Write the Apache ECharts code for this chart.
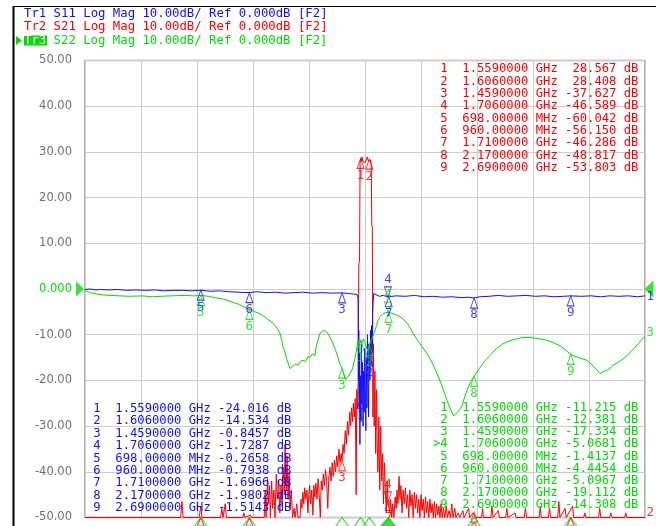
<!DOCTYPE html>
<html><head><meta charset="utf-8">
<script src="https://cdn.jsdelivr.net/npm/echarts@6.0.0/dist/echarts.min.js"></script>
<style>html,body{margin:0;padding:0;background:#fff}#c{width:656px;height:526px}</style>
</head><body><div id="c"></div>
<script>
// ---------- data ----------
const headerLines = [
  'Tr1 S11 Log Mag 10.00dB/ Ref 0.000dB [F2]',
  'Tr2 S21 Log Mag 10.00dB/ Ref 0.000dB [F2]',
  ' S22 Log Mag 10.00dB/ Ref 0.000dB [F2]'
];
const yTicks = [-50,-40,-30,-20,-10,0,10,20,30,40,50];
const freqStartMHz = 75, freqStopMHz = 3090;
const markerFreqMHz = [1559,1606,1459,1706,698,960,1710,2170,2690];
const markerFreqText = ['1.5590000 GHz','1.6060000 GHz','1.4590000 GHz','1.7060000 GHz','698.00000 MHz','960.00000 MHz','1.7100000 GHz','2.1700000 GHz','2.6900000 GHz'];
const s11Marker = ['-24.016','-14.534','-0.8457','-1.7287','-0.2658','-0.7938','-1.6966','-1.9802','-1.5143'];
const s21Marker = ['28.567','28.408','-37.627','-46.589','-60.042','-56.150','-46.286','-48.817','-53.803'];
const s22Marker = ['-11.215','-12.381','-17.334','-5.0681','-1.4137','-4.4454','-5.0967','-19.112','-14.308'];
const activeMarker = 4;

const s11 = [[75,-0.1],[100,0],[130,-0.2],[160,-0.1],[200,-0.2],[250,-0.1],[300,-0.3],[350,-0.2],[400,-0.3],[450,-0.2],[500,-0.4],[550,-0.3],[600,-0.3],[650,-0.4],[698,-0.27],[750,-0.5],[800,-0.4],[850,-0.6],[900,-0.7],[960,-0.79],[1000,-0.6],[1050,-0.8],[1100,-0.7],[1150,-0.9],[1200,-0.8],[1250,-0.7],[1300,-0.9],[1350,-0.8],[1400,-0.9],[1459,-0.85],[1500,-1.0],[1520,-1.1],[1540,-1.2],[1545,-2],[1547,-20],[1549,-9],[1551,-26],[1553,-14],[1555,-34],[1557,-19],[1559,-24.0],[1561,-29],[1563,-12],[1566,-25],[1569,-16],[1572,-30],[1575,-18],[1578,-27],[1581,-13],[1584,-22],[1587,-31],[1590,-15],[1593,-26],[1596,-10],[1599,-21],[1602,-28],[1604,-12],[1606,-14.5],[1609,-20],[1612,-9],[1615,-17],[1618,-8],[1621,-14],[1624,-5],[1627,-2.5],[1630,-1.0],[1636,-1.4],[1660,-1.6],[1680,-1.4],[1706,-1.73],[1710,-1.70],[1750,-1.5],[1800,-1.6],[1850,-1.4],[1900,-1.7],[1950,-1.6],[2000,-1.8],[2050,-1.7],[2100,-1.9],[2140,-1.8],[2170,-1.98],[2200,-1.7],[2250,-1.6],[2300,-1.4],[2350,-1.6],[2400,-1.5],[2450,-1.4],[2500,-1.6],[2550,-1.5],[2600,-1.7],[2650,-1.6],[2690,-1.51],[2750,-1.6],[2800,-1.5],[2850,-1.7],[2900,-1.5],[2950,-1.6],[3000,-1.5],[3050,-1.7],[3090,-1.5]];

const s21 = [[75,-50],[180,-50],[590,-50],[597,-46.5],[603,-50],[690,-50],[698,-47.5],[705,-50],[805,-50],[812,-48],[818,-50],[830,-47],[836,-50],[925,-50],[930,-49],[936,-50],[965,-49.5],[972,-50],[1040,-50],[1045,-44],[1050,-50],[1058,-41.5],[1062,-47],[1068,-43],[1073,-50],[1080,-42],[1085,-48],[1092,-44],[1098,-50],[1105,-40.5],[1110,-46],[1118,-42],[1124,-49],[1130,-43],[1136,-47],[1142,-39],[1148,-45],[1152,-34],[1158,-44],[1163,-36.5],[1168,-46],[1174,-40],[1180,-48],[1186,-44],[1192,-50],[1200,-48],[1206,-50],[1215,-47],[1222,-50],[1233,-50],[1238,-46],[1243,-48],[1248,-44.5],[1253,-47],[1258,-43.5],[1264,-46],[1270,-44],[1275,-49],[1280,-45],[1285,-43],[1290,-47],[1296,-44],[1302,-49.5],[1307,-43],[1312,-45.5],[1318,-42.5],[1324,-46],[1330,-41.5],[1336,-45],[1342,-50],[1347,-42],[1353,-44],[1358,-40.5],[1364,-43],[1370,-39.5],[1376,-42],[1382,-48],[1388,-41],[1394,-39],[1400,-42],[1406,-38],[1412,-41],[1418,-37.5],[1424,-40],[1430,-36.5],[1436,-39],[1442,-35],[1448,-38],[1454,-36],[1459,-37.6],[1464,-34],[1470,-36],[1476,-31],[1482,-34],[1488,-29],[1494,-32],[1500,-27],[1505,-30],[1510,-26],[1515,-29],[1520,-25],[1525,-28],[1530,-24],[1535,-45],[1538,-22],[1542,-26],[1546,-20],[1549,5.5],[1553,6],[1556,27.5],[1559,28.57],[1563,28.0],[1567,28.9],[1571,27.8],[1576,27.6],[1580,27.9],[1584,27.7],[1590,27.9],[1595,28.9],[1600,28.0],[1606,28.41],[1612,28.2],[1616,27.5],[1619,14],[1622,13.5],[1625,-28],[1628,-12],[1632,-30],[1636,-18],[1640,-36],[1644,-22],[1648,-33],[1652,-40],[1657,-28],[1662,-44],[1667,-30],[1672,-42],[1677,-36],[1682,-47],[1687,-38],[1692,-44],[1697,-49],[1702,-42],[1706,-46.6],[1710,-46.3],[1716,-49],[1720,-46],[1726,-50],[1732,-47],[1738,-50],[1745,-45.5],[1750,-48],[1755,-44],[1760,-47],[1766,-41],[1771,-46],[1776,-43],[1782,-49],[1788,-44],[1794,-47],[1800,-43.5],[1806,-48],[1812,-45],[1818,-50],[1824,-44],[1830,-47.5],[1836,-45],[1842,-50],[1848,-44.5],[1854,-48],[1860,-45],[1866,-49],[1872,-46],[1878,-50],[1884,-45],[1890,-48.5],[1896,-46],[1902,-50],[1908,-45.5],[1914,-49],[1920,-46.5],[1926,-50],[1932,-46],[1938,-49],[1944,-47],[1950,-50],[1956,-46.5],[1962,-50],[1968,-47],[1974,-49.5],[1980,-47.5],[1986,-50],[1992,-47],[1998,-50],[2005,-48],[2012,-50],[2020,-47.5],[2026,-50],[2035,-48.5],[2042,-50],[2050,-47],[2056,-50],[2066,-48],[2072,-50],[2085,-49],[2092,-50],[2110,-48.5],[2116,-50],[2140,-48],[2146,-50],[2165,-49],[2170,-48.8],[2176,-50],[2210,-50],[2215,-48],[2220,-50],[2260,-50],[2266,-47.5],[2272,-50],[2300,-48.5],[2306,-50],[2340,-50],[2346,-48],[2352,-50],[2390,-49],[2396,-50],[2440,-50],[2446,-48],[2452,-50],[2520,-50],[2526,-47.5],[2532,-50],[2570,-50],[2576,-48],[2582,-50],[2620,-50],[2626,-46.5],[2632,-50],[2660,-48],[2666,-50],[2700,-47.5],[2706,-50],[2760,-50],[2766,-49],[2772,-50],[2840,-50],[2846,-48],[2852,-50],[2900,-50],[2906,-49],[2912,-50],[2980,-50],[2986,-49],[2992,-50],[3090,-50]];

const s22 = [[75,-0.3],[100,-0.8],[129,-1.0],[170,-1.3],[210,-1.4],[260,-1.5],[317,-1.6],[380,-1.5],[440,-1.7],[479,-1.6],[540,-1.5],[613,-1.4],[660,-1.5],[698,-1.41],[740,-1.6],[775,-1.9],[820,-2.2],[856,-2.7],[900,-3.3],[930,-3.9],[960,-4.45],[990,-5.0],[1017,-5.4],[1050,-6.3],[1087,-7.5],[1110,-8.6],[1125,-9.7],[1135,-11.2],[1141,-12.8],[1150,-13.5],[1160,-15.2],[1170,-16.4],[1179,-17.4],[1190,-17.0],[1200,-17.2],[1210,-16.4],[1222,-16.7],[1235,-15.8],[1249,-15.6],[1262,-15.9],[1275,-14.8],[1286,-15.0],[1300,-14.2],[1313,-14.6],[1320,-12.5],[1329,-11.3],[1340,-9.7],[1355,-9.2],[1367,-9.1],[1383,-9.7],[1397,-10.8],[1410,-11.9],[1425,-13.5],[1437,-15.0],[1448,-16.5],[1459,-17.3],[1470,-19.0],[1478,-19.8],[1486,-20.0],[1495,-19.0],[1502,-19.4],[1515,-17.5],[1529,-15.0],[1538,-13.0],[1545,-11.3],[1552,-12.5],[1559,-11.2],[1566,-11.9],[1573,-10.9],[1583,-11.7],[1592,-13.0],[1599,-13.5],[1606,-12.4],[1613,-11.4],[1620,-10.8],[1628,-10.0],[1636,-9.7],[1645,-8.0],[1652,-6.9],[1665,-6.0],[1679,-5.4],[1692,-5.2],[1706,-5.07],[1710,-5.10],[1720,-5.2],[1733,-5.4],[1760,-5.8],[1787,-6.5],[1815,-7.8],[1841,-9.7],[1870,-11.5],[1895,-12.9],[1916,-14.1],[1945,-16.2],[1970,-18.5],[1995,-21.0],[2024,-24.4],[2045,-26.5],[2060,-27.8],[2067,-27.7],[2080,-27.0],[2095,-26.2],[2105,-25.5],[2120,-23.5],[2140,-21.3],[2155,-20.0],[2170,-19.11],[2200,-17.3],[2230,-15.6],[2255,-14.6],[2290,-13.0],[2325,-12.0],[2363,-11.3],[2400,-10.9],[2433,-10.6],[2470,-10.6],[2509,-10.8],[2550,-11.1],[2595,-11.7],[2640,-12.6],[2690,-14.31],[2730,-15.0],[2778,-15.6],[2815,-17.0],[2848,-18.5],[2870,-18.0],[2895,-17.6],[2918,-16.7],[2955,-15.8],[2993,-14.6],[3035,-12.8],[3079,-10.8],[3090,-10.3]];

// ---------- styles ----------
const BLUE = '#1010ff', RED = '#ff0000', GREEN = '#00dd00';
const MONO = '"DejaVu Sans Mono", monospace';
const TFONT = '12.2px ' + MONO;

function tableText(vals, showActive) {
  return vals.map((v, i) => {
    const n = i + 1;
    const act = (showActive && n === activeMarker) ? '>' : ' ';
    return act + n + '  ' + markerFreqText[i] + ' ' + v.padStart(7, ' ') + ' dB';
  }).join('\n');
}
function markerPts(vals, pred) {
  const out = [];
  vals.forEach((v, i) => { if (pred(i, parseFloat(v))) out.push({ name: String(i + 1), value: [markerFreqMHz[i], parseFloat(v)] }); });
  return out;
}
function markerSeries(data, color, active) {
  return {
    type: 'scatter', data: data, silent: true, clip: false, z: 5,
    symbol: 'triangle', symbolSize: [7, 10],
    symbolRotate: active ? 180 : 0,
    symbolOffset: [0, active ? -5 : 5],
    itemStyle: { color: 'rgba(0,0,0,0)', borderColor: color, borderWidth: 1 },
    label: { show: true, formatter: '{b}', position: active ? 'top' : 'bottom', distance: 0,
      color: color, fontFamily: MONO, fontSize: 12.5 }
  };
}

const chart = echarts.init(document.getElementById('c'), null, { renderer: 'canvas' });
const lastOf = a => a[a.length - 1];

const option = {
  animation: false,
  backgroundColor: '#ffffff',
  grid: { left: 85, right: 11, top: 60.5, bottom: 8.5, show: true, borderColor: '#9a9a9a', borderWidth: 1.5, backgroundColor: 'transparent' },
  xAxis: [
    { type: 'value', min: freqStartMHz, max: freqStopMHz, axisLine: { show: false }, axisTick: { show: false }, axisLabel: { show: false }, splitLine: { show: false } },
    { type: 'value', min: 0, max: 10, interval: 1, axisLine: { show: false }, axisTick: { show: false }, axisLabel: { show: false }, splitLine: { show: true, lineStyle: { color: '#cdcdcd', width: 1 } } }
  ],
  yAxis: {
    type: 'value', min: yTicks[0], max: yTicks[yTicks.length - 1], interval: 10,
    axisLine: { show: false }, axisTick: { show: false },
    splitLine: { show: true, lineStyle: { color: '#cdcdcd', width: 1 } },
    axisLabel: { margin: 13, fontFamily: '"DejaVu Sans", sans-serif', fontSize: 11.5,
      formatter: v => (Number(v) === 0 ? '0.000' : Number(v).toFixed(2)),
      color: v => (Number(v) === 0 ? GREEN : '#707070') }
  },
  series: [
    { type: 'line', data: s21, showSymbol: false, symbol: 'none', silent: true, lineStyle: { color: RED, width: 1 }, z: 2 },
    { type: 'line', data: s11, showSymbol: false, symbol: 'none', silent: true, lineStyle: { color: BLUE, width: 1 }, z: 3 },
    { type: 'line', data: s22, showSymbol: false, symbol: 'none', silent: true, lineStyle: { color: GREEN, width: 1 }, z: 4 },
    markerSeries(markerPts(s11Marker, (i) => i + 1 !== activeMarker), BLUE, false),
    markerSeries(markerPts(s11Marker, (i) => i + 1 === activeMarker), BLUE, true),
    markerSeries(markerPts(s21Marker, (i, v) => i + 1 !== activeMarker && v >= -50), RED, false),
    markerSeries(markerPts(s21Marker, (i) => i + 1 === activeMarker), RED, true),
    markerSeries(markerPts(s22Marker, (i) => i + 1 !== activeMarker), GREEN, false),
    markerSeries(markerPts(s22Marker, (i) => i + 1 === activeMarker), GREEN, true),
    // stimulus markers along the bottom edge
    { type: 'scatter', silent: true, clip: false, z: 6, symbol: 'triangle', symbolSize: [13, 9], symbolOffset: [0, 4.5],
      data: markerFreqMHz.map((f, i) => (i + 1 === activeMarker ? null : [f, yTicks[0]])).filter(Boolean),
      itemStyle: { color: 'rgba(0,0,0,0)', borderColor: GREEN, borderWidth: 1 } },
    { type: 'scatter', silent: true, clip: false, z: 6, symbol: 'triangle', symbolSize: [17, 9], symbolOffset: [0, 4.5],
      data: [[markerFreqMHz[activeMarker - 1], yTicks[0]]], itemStyle: { color: GREEN } },
    // clipped red markers (below -50) at the bottom edge
    { type: 'scatter', silent: true, clip: false, z: 7, symbol: 'triangle', symbolSize: [7, 8], symbolOffset: [0, 4.5],
      data: markerFreqMHz.map((f, i) => (parseFloat(s21Marker[i]) < yTicks[0] ? [f, yTicks[0]] : null)).filter(Boolean),
      itemStyle: { color: 'rgba(0,0,0,0)', borderColor: RED, borderWidth: 1 } },
    // reference-level triangles
    { type: 'scatter', silent: true, clip: false, z: 6, symbol: 'triangle', symbolSize: [15, 8], symbolRotate: -90, symbolOffset: [-5, 0],
      data: [[freqStartMHz, 0]], itemStyle: { color: GREEN } },
    { type: 'scatter', silent: true, clip: false, z: 6, symbol: 'triangle', symbolSize: [17, 9], symbolRotate: 90, symbolOffset: [4, 0],
      data: [[freqStopMHz, 0]], itemStyle: { color: GREEN } },
    // trace numbers at right edge
    { type: 'scatter', silent: true, clip: false, z: 8, symbol: 'circle', symbolSize: 1,
      itemStyle: { color: 'rgba(0,0,0,0)' },
      data: [
        { name: '1', value: lastOf(s11), label: { color: BLUE, offset: [0, 1] } },
        { name: '3', value: lastOf(s22), label: { color: GREEN, offset: [0, -3] } },
        { name: '2', value: lastOf(s21), label: { color: RED, offset: [0, -5] } }
      ],
      label: { show: true, formatter: '{b}', position: 'right', distance: 1, fontFamily: MONO, fontSize: 12.5 } }
  ],
  graphic: [
    { type: 'line', shape: { x1: 13, y1: 6.5, x2: 656, y2: 6.5 }, style: { stroke: '#000', lineWidth: 1 } },
    { type: 'line', shape: { x1: 13.5, y1: 6, x2: 13.5, y2: 526 }, style: { stroke: '#000', lineWidth: 2 } },
    { type: 'text', x: 24, y: 14, style: { text: headerLines[0], font: '12.3px ' + MONO, fill: BLUE, verticalAlign: 'middle' } },
    { type: 'text', x: 24, y: 27, style: { text: headerLines[1], font: '12.3px ' + MONO, fill: RED, verticalAlign: 'middle' } },
    { type: 'polygon', shape: { points: [[16, 36], [22, 40.5], [16, 45]] }, style: { fill: GREEN } },
    { type: 'rect', shape: { x: 24, y: 35.5, width: 23, height: 10 }, style: { fill: GREEN } },
    { type: 'text', x: 24, y: 40.5, style: { text: 'Tr3', font: '12.3px ' + MONO, fill: '#ffffff', verticalAlign: 'middle' } },
    { type: 'text', x: 46.2, y: 40.5, style: { text: headerLines[2], font: '12.3px ' + MONO, fill: GREEN, verticalAlign: 'middle' } },
    { type: 'text', x: 433, y: 62.9, z: 10, style: { text: tableText(s21Marker, false), font: TFONT, fill: RED, lineHeight: 12.35, verticalAlign: 'top' } },
    { type: 'text', x: 86, y: 402.8, z: 10, style: { text: tableText(s11Marker, false), font: TFONT, fill: BLUE, lineHeight: 12.35, verticalAlign: 'top' } },
    { type: 'text', x: 433, y: 401.5, z: 10, style: { text: tableText(s22Marker, true), font: TFONT, fill: GREEN, lineHeight: 12.2, verticalAlign: 'top' } }
  ]
};
chart.setOption(option);
</script>
</body></html>
